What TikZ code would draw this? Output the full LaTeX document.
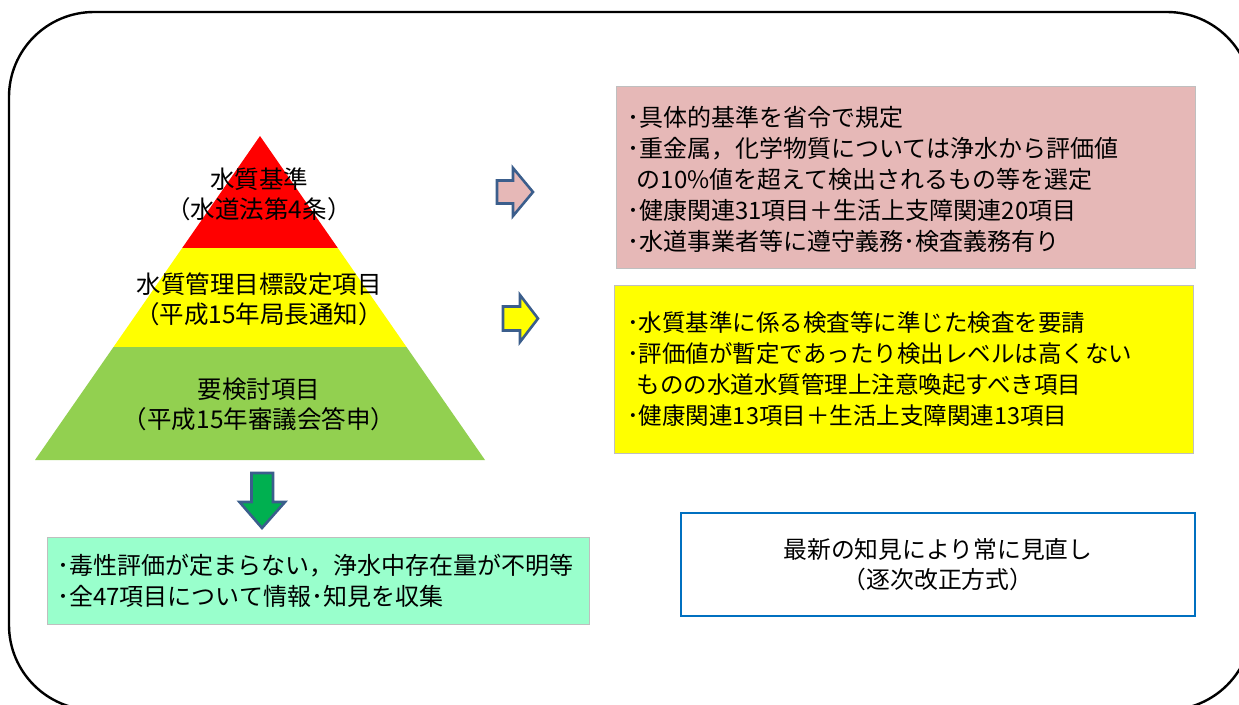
\documentclass[tikz,border=0pt]{standalone}
\usepackage{fontspec}
\setmainfont{Noto Sans CJK JP}
\usetikzlibrary{positioning}

\definecolor{pyrred}{HTML}{FF0000}
\definecolor{pyryellow}{HTML}{FFFF00}
\definecolor{pyrgreen}{HTML}{92D050}
\definecolor{boxpink}{HTML}{E6B8B7}
\definecolor{boxmint}{HTML}{99FFCC}
\definecolor{boxgray}{HTML}{BFBFBF}
\definecolor{boxblue}{HTML}{0070C0}
\definecolor{arrowedge}{HTML}{3B5E8C}
\definecolor{arrowgreen}{HTML}{00B050}

\tikzset{
  pyrtext/.style={align=center, inner sep=0pt, font=\fontsize{24.5}{30}\selectfont},
  boxtext/.style={align=left, anchor=west, inner sep=0pt, font=\fontsize{24}{31}\selectfont},
  infobox/.style={draw=boxgray, line width=0.8pt},
  fatarrow/.style={draw=arrowedge, line width=2.6pt, line join=miter}
}

\begin{document}
\begin{tikzpicture}[x=1pt, y=-1pt]
    \useasboundingbox (0,0) rectangle (1239,704);
    \clip (0,0) rectangle (1239,704);
    \draw [line width=2.4pt, rounded corners=85pt] (9,12) rectangle (1252,710);
    % pyramid
    \fill [pyrred] (260,136) -- (337.8,248) -- (182.2,248) -- cycle;
    \fill [pyryellow] (182.2,248) -- (337.8,248) -- (406.5,347) -- (113.5,347) -- cycle;
    \fill [pyrgreen] (113.5,347) -- (406.5,347) -- (485,460) -- (35,460) -- cycle;
    \node[pyrtext] (std) at (259,194) {水質基準\\（水道法第4条）};
    \node[pyrtext] (goal) at (259,299) {水質管理目標設定項目\\（平成15年局長通知）};
    \node[pyrtext] (review) at (259,404) {要検討項目\\（平成15年審議会答申）};
    % arrows
    \filldraw [fatarrow, fill=boxpink] (497,180.5) -- (513,180.5) -- (513,168) -- (533,192) -- (513,216) -- (513,203.5) -- (497,203.5) -- cycle;
    \filldraw [fatarrow, fill=pyryellow] (503,306.5) -- (520,306.5) -- (520,295) -- (538,318.5) -- (520,342) -- (520,330.5) -- (503,330.5) -- cycle;
    \filldraw [fatarrow, fill=arrowgreen] (251.5,473) -- (273,473) -- (273,502) -- (285,502) -- (262,528) -- (239.5,502) -- (251.5,502) -- cycle;
    % boxes
    \filldraw [infobox, fill=boxpink] (616,86) rectangle (1195,268);
    \node[boxtext] (stdinfo) at (627,179) {･具体的基準を省令で規定\\
        ･重金属，化学物質については浄水から評価値\\
        \hspace{0.4em}の10\%値を超えて検出されるもの等を選定\\
        ･健康関連31項目＋生活上支障関連20項目\\
        ･水道事業者等に遵守義務･検査義務有り};
    \filldraw [infobox, fill=pyryellow] (614,285) rectangle (1193,453);
    \node[boxtext, font=\fontsize{23.5}{31}\selectfont] (goalinfo) at (627,369) {･水質基準に係る検査等に準じた検査を要請\\
        ･評価値が暫定であったり検出レベルは高くない\\
        \hspace{0.4em}ものの水道水質管理上注意喚起すべき項目\\
        ･健康関連13項目＋生活上支障関連13項目};
    \filldraw [infobox, fill=boxmint] (47,537) rectangle (589,624);
    \node[boxtext] (reviewinfo) at (57,581) {･毒性評価が定まらない，浄水中存在量が不明等\\
        ･全47項目について情報･知見を収集};
    \draw [draw=boxblue, line width=2.6pt] (681,513) rectangle (1195,616);
    \node[pyrtext, font=\fontsize{23.8}{30}\selectfont] (revise) at (938,565) {最新の知見により常に見直し\\（逐次改正方式）};
\end{tikzpicture}
\end{document}
